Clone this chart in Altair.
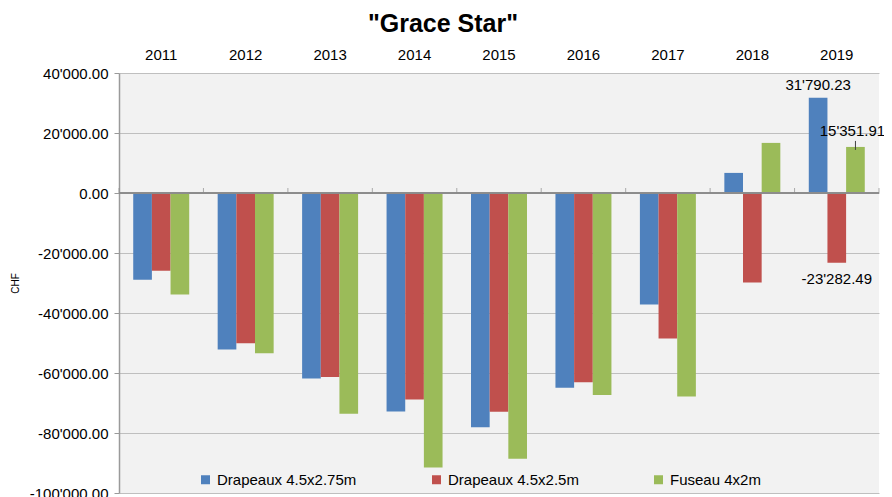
import altair as alt
import pandas as pd

years = ["2011", "2012", "2013", "2014", "2015", "2016", "2017", "2018", "2019"]
series = ["Drapeaux 4.5x2.75m", "Drapeaux 4.5x2.5m", "Fuseau 4x2m"]
colors = ["#4F81BD", "#C0504D", "#9BBB59"]
blue = [-28900, -52200, -61800, -72800, -78100, -64900, -37200, 6700, 31790.23]
red = [-25900, -50100, -61300, -68800, -72900, -63100, -48500, -29800, -23282.49]
green = [-33800, -53400, -73600, -91500, -88600, -67300, -67800, 16700, 15351.91]
y_ticks = [-100000, -80000, -60000, -40000, -20000, 0, 20000, 40000]
label_year = "2019"

rows = []
for s, vals in zip(series, [blue, red, green]):
    for y, v in zip(years, vals):
        rows.append({"year": y, "series": s, "value": v})
df = pd.DataFrame(rows)
bounds = pd.DataFrame({"b": list(range(len(years) + 1)), "zero": [0] * (len(years) + 1)})

fmt = "replace(replace(format(datum.value, ',.2f'), /,/g, \"'\"), /\u2212/g, '-')"

x_enc = alt.X("year:N", sort=years,
              scale=alt.Scale(paddingInner=0.337, paddingOuter=0.1685),
              axis=alt.Axis(orient="top", title=None, domain=False, ticks=False,
                            labelAngle=0, labelFontSize=15, labelPadding=11,
                            labelColor="#000000"))
xoff = alt.XOffset("series:N", sort=series, scale=alt.Scale(paddingInner=0, paddingOuter=0))
y_enc = alt.Y("value:Q",
              scale=alt.Scale(domain=[-100000, 40000], nice=False),
              axis=alt.Axis(title="CHF", values=y_ticks, labelExpr=fmt,
                            labelFontSize=15, labelColor="#000000", labelPadding=6,
                            tickSize=5, tickColor="#9A9A9A", domainColor="#9A9A9A",
                            domainWidth=1.5, gridColor="#BFBFBF",
                            titleFontSize=10, titleFontWeight="normal",
                            titleColor="#000000", titleX=-104, titleY=210,
                            titleAngle=270, titleBaseline="middle", titleAlign="center"))

bars = alt.Chart(df).mark_bar().encode(
    x=x_enc,
    xOffset=xoff,
    y=y_enc,
    color=alt.Color("series:N", sort=series,
                    scale=alt.Scale(domain=series, range=colors),
                    legend=alt.Legend(title=None, orient="none", legendX=79, legendY=399,
                                      direction="horizontal", symbolType="square",
                                      symbolSize=81, symbolStrokeWidth=0,
                                      labelFontSize=15, labelColor="#000000",
                                      columnPadding=72, labelOffset=4, labelLimit=400)),
)

zero = alt.Chart(df).mark_rule(color="#8C8C8C", strokeWidth=1).encode(y=alt.datum(0))

ticks = alt.Chart(bounds).mark_tick(orient="vertical", size=5, yOffset=-2.5,
                                    color="#8C8C8C", thickness=1).encode(
    x=alt.X("b:Q", scale=alt.Scale(domain=[0, len(years)], nice=False, zero=False), axis=None),
    y=alt.Y("zero:Q"),
)

lab = alt.Chart(df).transform_filter(
    alt.datum.year == label_year
).transform_calculate(label=fmt)

x_lab = alt.X("year:N", sort=years)
xo_lab = alt.XOffset("series:N", sort=series)

lab_blue = lab.transform_filter(alt.datum.series == series[0]).mark_text(
    fontSize=15, color="#000000", baseline="alphabetic", dy=-8).encode(
    x=x_lab, xOffset=xo_lab, y="value:Q", text="label:N")
lab_red = lab.transform_filter(alt.datum.series == series[1]).mark_text(
    fontSize=15, color="#000000", baseline="alphabetic", dy=21).encode(
    x=x_lab, xOffset=xo_lab, y="value:Q", text="label:N")
lab_green = lab.transform_filter(alt.datum.series == series[2]).mark_text(
    fontSize=15, color="#000000", baseline="alphabetic", dy=-11, dx=-3).encode(
    x=x_lab, xOffset=xo_lab, y="value:Q", text="label:N")
leader = lab.transform_filter(alt.datum.series == series[2]).mark_rule(
    color="#404040", strokeWidth=1, yOffset=3, y2Offset=-6).encode(
    x=x_lab, xOffset=xo_lab, y="value:Q", y2="value:Q")

main = alt.layer(bars, zero, leader, lab_blue, lab_red, lab_green)

chart = alt.layer(main, ticks).resolve_scale(
    x="independent"
).properties(
    width=760, height=420,
    title=alt.TitleParams('"Grace Star"', fontSize=25, fontWeight="bold",
                          anchor="middle", dx=-56, offset=10, color="#000000"),
    padding={"left": 111, "top": 65, "right": 5, "bottom": 4},
    autosize=alt.AutoSizeParams(type="none"),
).configure(font="Liberation Sans").configure_view(
    fill="#F2F2F2", strokeWidth=0
)

chart.save("out.html", embed_options={"renderer": "svg", "actions": False})
